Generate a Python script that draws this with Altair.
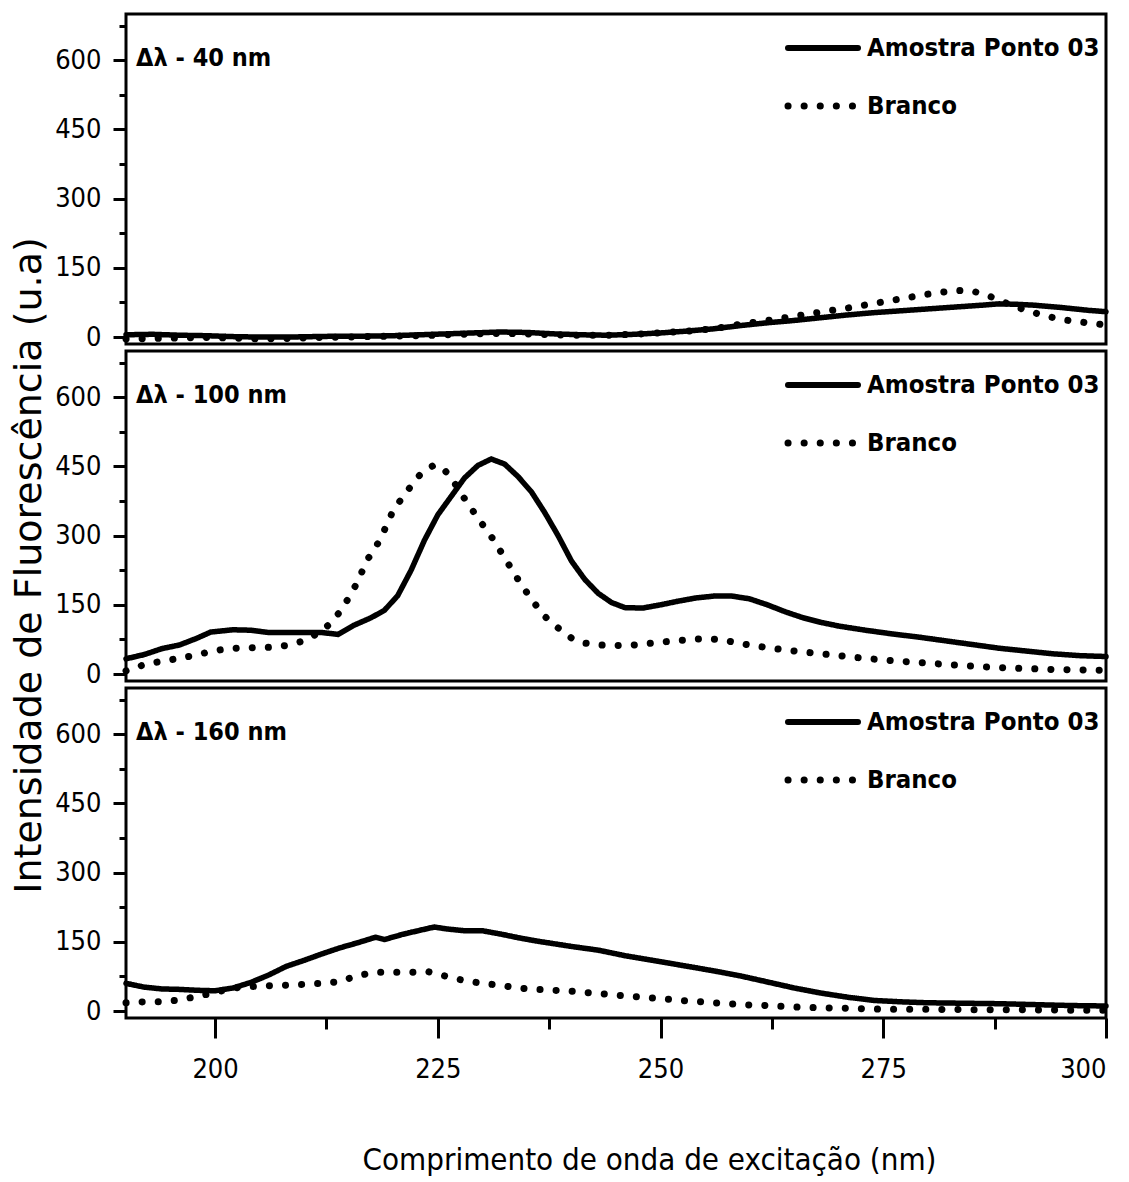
import altair as alt
import pandas as pd

# ---------------- data ----------------
panel_labels = ["Δλ - 40 nm", "Δλ - 100 nm", "Δλ - 160 nm"]
series_names = ["Amostra Ponto 03", "Branco"]

x_amostra_40 = [190,193,196,199,202,205,208,211,214,217,220,223,226,229,232,235,238,241,244,247,250,253,256,259,262,265,268,271,274,277,280,283,286,288,290,292,295,298,300]
y_amostra_40 = [5,6,4,3,1,0,0,1,2,2,3,5,7,9,11,10,7,5,4,6,9,13,18,25,31,36,42,48,53,57,61,65,69,72,71,69,64,58,55]
x_branco_40 = [190,193,196,199,202,205,208,211,214,217,220,223,226,229,232,235,238,241,244,247,250,253,256,259,262,265,268,271,274,277,280,283,285,287,289,291,293,295,297,300]
y_branco_40 = [-4,-3,-2,-1,-2,-4,-3,-1,0,1,2,3,5,7,8,7,5,4,4,6,9,13,18,28,36,45,54,63,73,83,93,101,100,88,72,58,47,38,33,26]

x_amostra_100 = [190,192,194,196,198,199.5,202,204,206,208,210,212,213.8,215.5,217.5,219,220.5,222,223.5,225,226.5,228,229.5,231,232.5,234,235.5,237,238.5,240,241.5,243,244.5,246,248,250,252,254,256,258,260,262,264,266,268,270,273,276,279,282,285,288,291,294,297,300]
y_amostra_100 = [33,42,55,63,78,91,96,95,90,90,90,90,86,105,122,138,170,225,290,345,385,425,452,466,455,428,395,350,300,245,205,175,155,144,143,150,158,165,169,169,163,150,135,122,112,104,95,87,80,72,64,56,50,44,40,38]
x_branco_100 = [190,192,194,196,198,200,202,204,206,208,210,211.5,213,214,215,216,217,218.5,220,221.5,223,224.5,225.5,226.5,228,229.5,231,232.5,234,235.5,237,238.5,240,241.5,243,245,247,249,251,253,255,257,259,261,264,267,270,273,276,279,282,285,288,291,294,297,300]
y_branco_100 = [7,20,28,34,42,51,56,57,58,62,72,88,110,135,165,200,245,290,355,395,432,452,448,425,380,338,298,252,205,162,125,100,78,67,63,62,63,67,71,74,77,74,66,60,52,46,40,34,29,25,21,17,14,12,10,9,8]

x_amostra_160 = [190,192,194,196,198,200,202,204,206,208,210,212,214,216,218,219,221,223,224.6,226,228,230,232,234,236,238,240,243,246,250,253,256,259,262,265,268,271,274,277,280,284,288,292,296,300]
y_amostra_160 = [60,52,48,47,45,44,50,62,78,97,110,124,137,148,160,155,166,175,182,178,174,174,167,159,152,146,140,132,120,107,97,87,76,63,50,39,30,23,20,18,17,16,14,12,11]
x_branco_160 = [190,192,194,196,198,200,202,204,206,208,210,212,214,216,218,220,222,224,226,228,230,232,234,236,238,240,243,246,250,253,256,259,262,265,268,271,275,280,285,290,295,300]
y_branco_160 = [18,20,20,24,32,40,50,53,55,56,58,60,64,77,84,84,84,85,75,66,60,56,50,47,45,43,38,33,27,22,18,14,12,9,7,6,4,4,3,3,2,2]

y_tick_values = [0, 75, 150, 225, 300, 375, 450, 525, 600, 675]
x_tick_values = [200, 212.5, 225, 237.5, 250, 262.5, 275, 287.5, 300]

panels_data = [
    (x_amostra_40, y_amostra_40, x_branco_40, y_branco_40),
    (x_amostra_100, y_amostra_100, x_branco_100, y_branco_100),
    (x_amostra_160, y_amostra_160, x_branco_160, y_branco_160),
]

NARROW = "'DejaVu Sans Condensed', 'Liberation Sans Narrow', sans-serif"
W, H = 980, 330


def make_df(xa, ya, xb, yb):
    d1 = pd.DataFrame({"nm": xa, "v": ya, "serie": series_names[0]})
    d2 = pd.DataFrame({"nm": xb, "v": yb, "serie": series_names[1]})
    return pd.concat([d1, d2], ignore_index=True)


one = pd.DataFrame({"k": [0]})


def panel(i):
    xa, ya, xb, yb = panels_data[i]
    df = make_df(xa, ya, xb, yb)
    last = i == 2
    middle = i == 1

    if last:
        xaxis = alt.Axis(
            values=x_tick_values,
            labelExpr="datum.value % 25 === 0 ? datum.label : ''",
            tickSize={"condition": {"test": "datum.value % 25 === 0", "value": 20}, "value": 11},
            tickWidth=3, tickColor="black", domain=False, grid=False,
            labelFont=NARROW, labelFontSize=27, labelColor="black", labelPadding=18,
            title="Comprimento de onda de excitação (nm)",
            titleFont=NARROW, titleFontSize=31, titleFontWeight="normal",
            titleColor="black", titlePadding=63, titleX=523, titleAlign="center",
        )
    else:
        xaxis = None

    yaxis_kw = dict(
        values=y_tick_values,
        labelExpr="datum.value % 150 === 0 ? datum.label : ''",
        tickSize={"condition": {"test": "datum.value % 150 === 0", "value": 13}, "value": 7},
        tickWidth=3, tickColor="black", domain=False, grid=False,
        labelFont=NARROW, labelFontSize=27, labelColor="black", labelPadding=12,
    )
    if middle:
        yaxis = alt.Axis(
            title="Intensidade de Fluorescência (u.a)",
            titleFont="DejaVu Sans", titleFontSize=38, titleFontWeight="normal",
            titleColor="black", titleAngle=270, titleX=-97, titleY=214,
            titleAlign="center", titleBaseline="middle",
            **yaxis_kw,
        )
    else:
        yaxis = alt.Axis(title=None, **yaxis_kw)

    x_enc = alt.X("nm:Q", scale=alt.Scale(domain=[190, 300], nice=False, zero=False), axis=xaxis)
    y_enc = alt.Y("v:Q", scale=alt.Scale(domain=[-15, 700], nice=False, zero=False), axis=yaxis)

    lines = alt.Chart(df).mark_line(strokeCap="round", strokeJoin="round", color="black").encode(
        x=x_enc,
        y=y_enc,
        strokeDash=alt.StrokeDash("serie:N", scale=alt.Scale(domain=series_names, range=[[1, 0], [0.1, 16]]), legend=None),
        strokeWidth=alt.StrokeWidth("serie:N", scale=alt.Scale(domain=series_names, range=[5.5, 7]), legend=None),
        detail="serie:N",
    )

    label = alt.Chart(one).mark_text(
        align="left", baseline="middle", font=NARROW, fontSize=25, fontWeight="bold", color="black"
    ).encode(x=alt.value(10), y=alt.value(44), text=alt.value(panel_labels[i]))

    leg_line1 = alt.Chart(one).mark_rule(color="black", strokeWidth=6, strokeCap="round").encode(
        x=alt.value(662), x2=alt.value(732), y=alt.value(34)
    )
    leg_line2 = alt.Chart(one).mark_rule(color="black", strokeWidth=7, strokeCap="round", strokeDash=[0.1, 16]).encode(
        x=alt.value(662), x2=alt.value(727), y=alt.value(92)
    )
    leg_text1 = alt.Chart(one).mark_text(
        align="left", baseline="middle", font=NARROW, fontSize=25.5, fontWeight="bold", color="black"
    ).encode(x=alt.value(741), y=alt.value(34), text=alt.value(series_names[0]))
    leg_text2 = alt.Chart(one).mark_text(
        align="left", baseline="middle", font=NARROW, fontSize=25.5, fontWeight="bold", color="black"
    ).encode(x=alt.value(741), y=alt.value(92), text=alt.value(series_names[1]))

    return alt.layer(lines, label, leg_line1, leg_line2, leg_text1, leg_text2).properties(width=W, height=H)


chart = alt.vconcat(panel(0), panel(1), panel(2), spacing=7, bounds="flush").properties(
    padding={"left": 0, "top": 4, "right": 5, "bottom": 5}
).configure_view(stroke="black", strokeWidth=3)

chart.save("out.html", embed_options={"renderer": "svg", "actions": False})
